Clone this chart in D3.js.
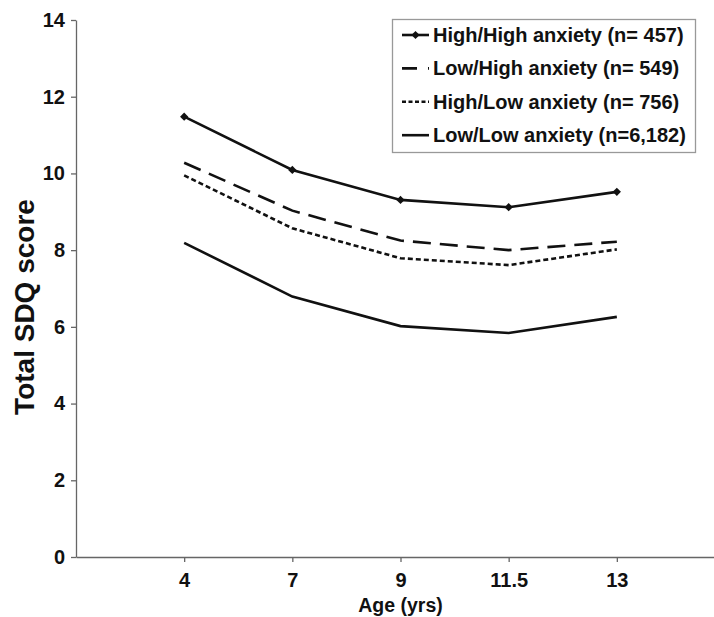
<!DOCTYPE html>
<html>
<head>
<meta charset="utf-8">
<script src="https://cdn.jsdelivr.net/npm/d3@7"></script>
<style>
  body { margin: 0; background: #fff; }
  svg { display: block; font-family: "Liberation Sans", Arial, sans-serif; font-weight: bold; }
</style>
</head>
<body>
<div id="chart-area"></div>
<script>
var ages = ["4", "7", "9", "11.5", "13"];
var yTicks = [0, 2, 4, 6, 8, 10, 12, 14];

var highHigh = [11.48, 10.09, 9.31, 9.12, 9.52];
var lowHigh  = [10.28, 9.03, 8.25, 8.0, 8.22];
var highLow  = [9.95, 8.57, 7.79, 7.61, 8.02];
var lowLow   = [8.19, 6.79, 6.02, 5.84, 6.26];

var seriesNames = [
    "High/High anxiety (n= 457)",
    "Low/High anxiety (n= 549)",
    "High/Low anxiety (n= 756)",
    "Low/Low anxiety (n=6,182)"
];

var series = [
    {name: seriesNames[0], values: highHigh, dash: null, marker: true},
    {name: seriesNames[1], values: lowHigh, dash: "18,9", marker: false},
    {name: seriesNames[2], values: highLow, dash: "5,3", marker: false},
    {name: seriesNames[3], values: lowLow, dash: null, marker: false}
];

var W = 714, H = 617;
var plotLeft = 76, plotTop = 20, plotBottom = 557;

var svg = d3.select("#chart-area")
    .append("svg")
    .attr("width", W)
    .attr("height", H);

var x = d3.scalePoint()
    .domain(ages)
    .range([plotLeft, 725])
    .padding(1);

var y = d3.scaleLinear()
    .domain([0, 14])
    .range([plotBottom, plotTop]);

// y axis
var yAxisCall = d3.axisLeft(y)
    .tickValues(yTicks)
    .tickSize(5)
    .tickSizeOuter(0)
    .tickPadding(6)
    .tickFormat(d3.format("d"));
var yAxis = svg.append("g")
    .attr("transform", "translate(" + plotLeft + ",0)")
    .call(yAxisCall);
yAxis.selectAll("text")
    .attr("font-size", "20px")
    .attr("font-family", "Liberation Sans, Arial, sans-serif")
    .attr("font-weight", "bold")
    .attr("fill", "#111");

// x axis
var xAxisCall = d3.axisBottom(x)
    .tickSize(5)
    .tickSizeOuter(0);
var xAxis = svg.append("g")
    .attr("transform", "translate(0," + plotBottom + ")")
    .call(xAxisCall);
xAxis.selectAll("text")
    .attr("dy", null)
    .attr("y", 30)
    .attr("font-size", "20px")
    .attr("font-family", "Liberation Sans, Arial, sans-serif")
    .attr("font-weight", "bold")
    .attr("fill", "#111");

svg.selectAll(".domain, .tick line")
    .attr("stroke", "#666")
    .attr("stroke-width", 1.3);

// axis titles
svg.append("text")
    .attr("transform", "translate(34,307) rotate(-90)")
    .attr("text-anchor", "middle")
    .attr("font-size", "28px")
    .attr("fill", "#111")
    .text("Total SDQ score");

svg.append("text")
    .attr("x", x("9"))
    .attr("y", 612)
    .attr("text-anchor", "middle")
    .attr("font-size", "19.5px")
    .attr("fill", "#111")
    .text("Age (yrs)");

// lines
var line = d3.line()
    .x(function(d, i){ return x(ages[i]); })
    .y(function(d){ return y(d); });

var diamond = d3.symbol().type(d3.symbolSquare).size(34);

series.forEach(function(s){
    svg.append("path")
        .datum(s.values)
        .attr("d", line)
        .attr("fill", "none")
        .attr("stroke", "#111")
        .attr("stroke-width", 2.6)
        .attr("stroke-dasharray", s.dash);
    if (s.marker) {
        svg.selectAll(null)
            .data(s.values)
            .enter()
            .append("path")
            .attr("d", diamond)
            .attr("transform", function(d, i){
                return "translate(" + x(ages[i]) + "," + y(d) + ") rotate(45)";
            })
            .attr("fill", "#111");
    }
});

// legend
var legend = svg.append("g");
legend.append("rect")
    .attr("x", 392.5)
    .attr("y", 19.5)
    .attr("width", 303)
    .attr("height", 133)
    .attr("fill", "#fff")
    .attr("stroke", "#999")
    .attr("stroke-width", 1.3);

series.forEach(function(s, i){
    var cy = 35 + i * 33.4;
    legend.append("line")
        .attr("x1", 402)
        .attr("x2", 429)
        .attr("y1", cy)
        .attr("y2", cy)
        .attr("stroke", "#111")
        .attr("stroke-width", 2.6)
        .attr("stroke-dasharray", s.dash ? (i == 1 ? "15,11" : "4,2.5") : null);
    if (s.marker) {
        legend.append("path")
            .attr("d", diamond)
            .attr("transform", "translate(415.5," + cy + ") rotate(45)")
            .attr("fill", "#111");
    }
    legend.append("text")
        .attr("x", 433)
        .attr("y", cy + 7)
        .attr("font-size", "20px")
        .attr("fill", "#111")
        .text(s.name);
});
</script>
</body>
</html>
